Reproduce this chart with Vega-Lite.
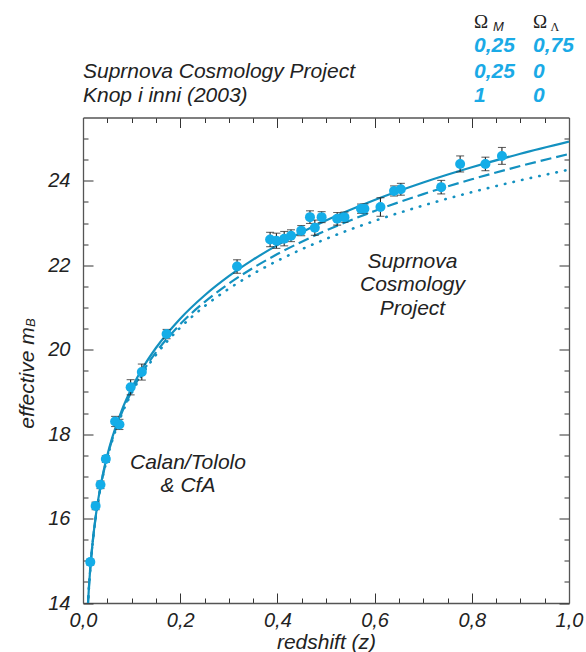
{
  "$schema": "https://vega.github.io/schema/vega-lite/v6.json",
  "width": 486,
  "height": 485.5,
  "autosize": "none",
  "padding": {"left": 83, "top": 117.5, "right": 17, "bottom": 49},
  "background": "white",
  "config": {
    "view": {"stroke": null},
    "font": "Liberation Sans",
    "axis": {
      "grid": false,
      "domainColor": "#555555",
      "domainWidth": 1.3,
      "tickColor": "#333333",
      "tickWidth": 1,
      "labelFont": "Liberation Sans",
      "labelFontStyle": "italic",
      "labelFontSize": 20,
      "labelColor": "#222222",
      "titleFont": "Liberation Sans",
      "titleFontStyle": "italic",
      "titleFontWeight": "normal",
      "titleFontSize": 21,
      "titleColor": "#222222"
    }
  },
  "data": {"values": [{}]},
  "datasets": {
    "sn": [
      {"z": 0.015, "m": 14.97, "e": 0.07},
      {"z": 0.026, "m": 16.30, "e": 0.09},
      {"z": 0.036, "m": 16.80, "e": 0.09},
      {"z": 0.047, "m": 17.41, "e": 0.08},
      {"z": 0.066, "m": 18.30, "e": 0.12},
      {"z": 0.075, "m": 18.23, "e": 0.12},
      {"z": 0.098, "m": 19.11, "e": 0.18},
      {"z": 0.121, "m": 19.47, "e": 0.19},
      {"z": 0.172, "m": 20.37, "e": 0.11},
      {"z": 0.317, "m": 21.97, "e": 0.16},
      {"z": 0.385, "m": 22.61, "e": 0.17},
      {"z": 0.398, "m": 22.58, "e": 0.18},
      {"z": 0.414, "m": 22.63, "e": 0.17},
      {"z": 0.428, "m": 22.70, "e": 0.14},
      {"z": 0.449, "m": 22.82, "e": 0.12},
      {"z": 0.467, "m": 23.14, "e": 0.15},
      {"z": 0.477, "m": 22.89, "e": 0.18},
      {"z": 0.491, "m": 23.14, "e": 0.13},
      {"z": 0.523, "m": 23.10, "e": 0.15},
      {"z": 0.538, "m": 23.14, "e": 0.12},
      {"z": 0.572, "m": 23.34, "e": 0.11},
      {"z": 0.579, "m": 23.34, "e": 0.11},
      {"z": 0.612, "m": 23.38, "e": 0.22},
      {"z": 0.640, "m": 23.76, "e": 0.12},
      {"z": 0.654, "m": 23.80, "e": 0.14},
      {"z": 0.737, "m": 23.85, "e": 0.16},
      {"z": 0.776, "m": 24.40, "e": 0.19},
      {"z": 0.828, "m": 24.40, "e": 0.16},
      {"z": 0.862, "m": 24.59, "e": 0.20}
    ],
    "curves": [
      {"model": "flat", "z": 0.01, "m": 13.938},
      {"model": "flat", "z": 0.0125, "m": 14.427},
      {"model": "flat", "z": 0.015, "m": 14.827},
      {"model": "flat", "z": 0.02, "m": 15.460},
      {"model": "flat", "z": 0.025, "m": 15.953},
      {"model": "flat", "z": 0.03, "m": 16.358},
      {"model": "flat", "z": 0.04, "m": 17.000},
      {"model": "flat", "z": 0.05, "m": 17.500},
      {"model": "flat", "z": 0.06, "m": 17.912},
      {"model": "flat", "z": 0.08, "m": 18.569},
      {"model": "flat", "z": 0.1, "m": 19.085},
      {"model": "flat", "z": 0.125, "m": 19.607},
      {"model": "flat", "z": 0.15, "m": 20.040},
      {"model": "flat", "z": 0.2, "m": 20.734},
      {"model": "flat", "z": 0.25, "m": 21.284},
      {"model": "flat", "z": 0.3, "m": 21.741},
      {"model": "flat", "z": 0.35, "m": 22.133},
      {"model": "flat", "z": 0.4, "m": 22.477},
      {"model": "flat", "z": 0.5, "m": 23.061},
      {"model": "flat", "z": 0.6, "m": 23.546},
      {"model": "flat", "z": 0.7, "m": 23.960},
      {"model": "flat", "z": 0.8, "m": 24.321},
      {"model": "flat", "z": 0.9, "m": 24.642},
      {"model": "flat", "z": 1.0, "m": 24.929},
      {"model": "open", "z": 0.01, "m": 13.930},
      {"model": "open", "z": 0.0125, "m": 14.416},
      {"model": "open", "z": 0.015, "m": 14.815},
      {"model": "open", "z": 0.02, "m": 15.444},
      {"model": "open", "z": 0.025, "m": 15.933},
      {"model": "open", "z": 0.03, "m": 16.334},
      {"model": "open", "z": 0.04, "m": 16.968},
      {"model": "open", "z": 0.05, "m": 17.462},
      {"model": "open", "z": 0.06, "m": 17.867},
      {"model": "open", "z": 0.08, "m": 18.509},
      {"model": "open", "z": 0.1, "m": 19.012},
      {"model": "open", "z": 0.125, "m": 19.518},
      {"model": "open", "z": 0.15, "m": 19.936},
      {"model": "open", "z": 0.2, "m": 20.603},
      {"model": "open", "z": 0.25, "m": 21.129},
      {"model": "open", "z": 0.3, "m": 21.564},
      {"model": "open", "z": 0.35, "m": 21.938},
      {"model": "open", "z": 0.4, "m": 22.265},
      {"model": "open", "z": 0.5, "m": 22.822},
      {"model": "open", "z": 0.6, "m": 23.286},
      {"model": "open", "z": 0.7, "m": 23.685},
      {"model": "open", "z": 0.8, "m": 24.036},
      {"model": "open", "z": 0.9, "m": 24.351},
      {"model": "open", "z": 1.0, "m": 24.635},
      {"model": "eds", "z": 0.01, "m": 13.925},
      {"model": "eds", "z": 0.0125, "m": 14.411},
      {"model": "eds", "z": 0.015, "m": 14.809},
      {"model": "eds", "z": 0.02, "m": 15.436},
      {"model": "eds", "z": 0.025, "m": 15.923},
      {"model": "eds", "z": 0.03, "m": 16.322},
      {"model": "eds", "z": 0.04, "m": 16.952},
      {"model": "eds", "z": 0.05, "m": 17.441},
      {"model": "eds", "z": 0.06, "m": 17.842},
      {"model": "eds", "z": 0.08, "m": 18.477},
      {"model": "eds", "z": 0.1, "m": 18.971},
      {"model": "eds", "z": 0.125, "m": 19.468},
      {"model": "eds", "z": 0.15, "m": 19.875},
      {"model": "eds", "z": 0.2, "m": 20.522},
      {"model": "eds", "z": 0.25, "m": 21.028},
      {"model": "eds", "z": 0.3, "m": 21.443},
      {"model": "eds", "z": 0.35, "m": 21.797},
      {"model": "eds", "z": 0.4, "m": 22.105},
      {"model": "eds", "z": 0.5, "m": 22.624},
      {"model": "eds", "z": 0.6, "m": 23.051},
      {"model": "eds", "z": 0.7, "m": 23.415},
      {"model": "eds", "z": 0.8, "m": 23.731},
      {"model": "eds", "z": 0.9, "m": 24.012},
      {"model": "eds", "z": 1.0, "m": 24.264}
    ]
  },
  "resolve": {"axis": {"x": "independent", "y": "independent"}},
  "layer": [
    {
      "data": {"name": "curves"},
      "transform": [{"filter": "datum.model === 'flat'"}],
      "mark": {"type": "line", "clip": true, "color": "#1391c0", "strokeWidth": 2.2, "interpolate": "monotone"},
      "encoding": {
        "x": {
          "field": "z", "type": "quantitative",
          "scale": {"domain": [0, 1], "nice": false, "zero": false},
          "axis": {
            "orient": "bottom",
            "values": [0, 0.05, 0.1, 0.15, 0.2, 0.25, 0.3, 0.35, 0.4, 0.45, 0.5, 0.55, 0.6, 0.65, 0.7, 0.75, 0.8, 0.85, 0.9, 0.95, 1],
            "tickSize": {"condition": {"test": "indexof([0, 0.2, 0.4, 0.6, 0.8, 1], datum.value) >= 0", "value": -10}, "value": -5},
            "labelExpr": "indexof([0, 0.2, 0.4, 0.6, 0.8, 1], datum.value) >= 0 ? replace(format(datum.value, '.1f'), '.', ',') : ''",
            "labelPadding": 33,
            "labelBaseline": "alphabetic",
            "labelOverlap": false,
            "labelFlush": false,
            "labelBound": false,
            "title": "redshift (z)",
            "titleY": 45,
            "titleBaseline": "alphabetic"
          }
        },
        "y": {
          "field": "m", "type": "quantitative",
          "scale": {"domain": [14, 25.5], "nice": false, "zero": false},
          "axis": {
            "orient": "left",
            "values": [14, 14.5, 15, 15.5, 16, 16.5, 17, 17.5, 18, 18.5, 19, 19.5, 20, 20.5, 21, 21.5, 22, 22.5, 23, 23.5, 24, 24.5, 25],
            "tickSize": {"condition": {"test": "datum.value % 2 === 0", "value": -10}, "value": -5},
            "labelExpr": "datum.value % 2 === 0 ? format(datum.value, 'd') : ''",
            "labelPadding": 23,
            "labelOverlap": false,
            "labelFlush": false,
            "labelBound": false,
            "title": "effective m",
            "titleX": -50,
            "titleY": 260,
            "titleBaseline": "alphabetic"
          }
        }
      }
    },
    {
      "data": {"name": "curves"},
      "transform": [{"filter": "datum.model === 'open'"}],
      "mark": {"type": "line", "clip": true, "color": "#1391c0", "strokeWidth": 2.2, "strokeDash": [11, 5], "interpolate": "monotone"},
      "encoding": {
        "x": {"field": "z", "type": "quantitative", "axis": null},
        "y": {"field": "m", "type": "quantitative", "axis": null}
      }
    },
    {
      "data": {"name": "curves"},
      "transform": [{"filter": "datum.model === 'eds'"}],
      "mark": {"type": "line", "clip": true, "color": "#1391c0", "strokeWidth": 2.6, "strokeDash": [0.5, 8.3], "strokeCap": "round", "interpolate": "monotone"},
      "encoding": {
        "x": {"field": "z", "type": "quantitative", "axis": null},
        "y": {"field": "m", "type": "quantitative", "axis": null}
      }
    },
    {
      "data": {"name": "sn"},
      "mark": {"type": "errorbar", "color": "#222222", "thickness": 1.1, "ticks": {"size": 8, "color": "#222222"}},
      "encoding": {
        "x": {"field": "z", "type": "quantitative", "axis": null},
        "y": {"field": "m", "type": "quantitative", "axis": null},
        "yError": {"field": "e"}
      }
    },
    {
      "data": {"name": "sn"},
      "mark": {"type": "circle", "size": 100, "color": "#14ade8", "opacity": 1},
      "encoding": {
        "x": {
          "field": "z", "type": "quantitative",
          "axis": {
            "orient": "top",
            "values": [0, 0.05, 0.1, 0.15, 0.2, 0.25, 0.3, 0.35, 0.4, 0.45, 0.5, 0.55, 0.6, 0.65, 0.7, 0.75, 0.8, 0.85, 0.9, 0.95, 1],
            "tickSize": {"condition": {"test": "indexof([0, 0.2, 0.4, 0.6, 0.8, 1], datum.value) >= 0", "value": -10}, "value": -5},
            "labels": false,
            "title": null
          }
        },
        "y": {
          "field": "m", "type": "quantitative",
          "axis": {
            "orient": "right",
            "values": [14, 14.5, 15, 15.5, 16, 16.5, 17, 17.5, 18, 18.5, 19, 19.5, 20, 20.5, 21, 21.5, 22, 22.5, 23, 23.5, 24, 24.5, 25],
            "tickSize": {"condition": {"test": "datum.value % 2 === 0", "value": -10}, "value": -5},
            "labels": false,
            "title": null
          }
        }
      }
    },
    {
      "mark": {"type": "text", "text": "B", "angle": 270, "align": "left", "baseline": "alphabetic", "fontSize": 13, "fontStyle": "italic", "color": "#222222"},
      "encoding": {
        "x": {"datum": -0.0988, "type": "quantitative", "axis": null},
        "y": {"datum": 20.54, "type": "quantitative", "axis": null}
      }
    },
    {
      "mark": {"type": "text", "text": ["Calan/Tololo", "& CfA"], "align": "center", "baseline": "alphabetic", "lineHeight": 23, "fontSize": 21, "fontStyle": "italic", "color": "#222222"},
      "encoding": {
        "x": {"datum": 0.216, "type": "quantitative", "axis": null},
        "y": {"datum": 17.175, "type": "quantitative", "axis": null}
      }
    },
    {
      "mark": {"type": "text", "text": ["Suprnova", "Cosmology", "Project"], "align": "center", "baseline": "alphabetic", "lineHeight": 23.5, "fontSize": 21, "fontStyle": "italic", "color": "#222222"},
      "encoding": {
        "x": {"datum": 0.678, "type": "quantitative", "axis": null},
        "y": {"datum": 21.936, "type": "quantitative", "axis": null}
      }
    },
    {
      "mark": {"type": "text", "text": "Suprnova Cosmology Project", "align": "left", "baseline": "alphabetic", "fontSize": 21, "fontStyle": "italic", "color": "#222222"},
      "encoding": {
        "x": {"datum": 0, "type": "quantitative", "axis": null},
        "y": {"datum": 26.429, "type": "quantitative", "axis": null}
      }
    },
    {
      "mark": {"type": "text", "text": "Knop i inni (2003)", "align": "left", "baseline": "alphabetic", "fontSize": 21, "fontStyle": "italic", "color": "#222222"},
      "encoding": {
        "x": {"datum": 0, "type": "quantitative", "axis": null},
        "y": {"datum": 25.872, "type": "quantitative", "axis": null}
      }
    },
    {
      "mark": {"type": "text", "text": "Ω", "align": "left", "baseline": "alphabetic", "fontSize": 19, "font": "Liberation Serif", "color": "#222222"},
      "encoding": {
        "x": {"datum": 0.8045, "type": "quantitative", "axis": null},
        "y": {"datum": 27.626, "type": "quantitative", "axis": null}
      }
    },
    {
      "mark": {"type": "text", "text": "M", "align": "left", "baseline": "alphabetic", "fontSize": 13, "fontStyle": "italic", "color": "#222222"},
      "encoding": {
        "x": {"datum": 0.8436, "type": "quantitative", "axis": null},
        "y": {"datum": 27.555, "type": "quantitative", "axis": null}
      }
    },
    {
      "mark": {"type": "text", "text": "Ω", "align": "left", "baseline": "alphabetic", "fontSize": 19, "font": "Liberation Serif", "color": "#222222"},
      "encoding": {
        "x": {"datum": 0.9259, "type": "quantitative", "axis": null},
        "y": {"datum": 27.626, "type": "quantitative", "axis": null}
      }
    },
    {
      "mark": {"type": "text", "text": "Λ", "align": "left", "baseline": "alphabetic", "fontSize": 12, "font": "Liberation Serif", "color": "#222222"},
      "encoding": {
        "x": {"datum": 0.9619, "type": "quantitative", "axis": null},
        "y": {"datum": 27.555, "type": "quantitative", "axis": null}
      }
    },
    {
      "mark": {"type": "text", "text": "0,25", "align": "left", "baseline": "alphabetic", "fontSize": 21, "fontStyle": "italic", "fontWeight": "bold", "color": "#1aaae6"},
      "encoding": {
        "x": {"datum": 0.8045, "type": "quantitative", "axis": null},
        "y": {"datum": 27.045, "type": "quantitative", "axis": null}
      }
    },
    {
      "mark": {"type": "text", "text": "0,75", "align": "left", "baseline": "alphabetic", "fontSize": 21, "fontStyle": "italic", "fontWeight": "bold", "color": "#1aaae6"},
      "encoding": {
        "x": {"datum": 0.9259, "type": "quantitative", "axis": null},
        "y": {"datum": 27.045, "type": "quantitative", "axis": null}
      }
    },
    {
      "mark": {"type": "text", "text": "0,25", "align": "left", "baseline": "alphabetic", "fontSize": 21, "fontStyle": "italic", "fontWeight": "bold", "color": "#1aaae6"},
      "encoding": {
        "x": {"datum": 0.8045, "type": "quantitative", "axis": null},
        "y": {"datum": 26.429, "type": "quantitative", "axis": null}
      }
    },
    {
      "mark": {"type": "text", "text": "0", "align": "left", "baseline": "alphabetic", "fontSize": 21, "fontStyle": "italic", "fontWeight": "bold", "color": "#1aaae6"},
      "encoding": {
        "x": {"datum": 0.9259, "type": "quantitative", "axis": null},
        "y": {"datum": 26.429, "type": "quantitative", "axis": null}
      }
    },
    {
      "mark": {"type": "text", "text": "1", "align": "left", "baseline": "alphabetic", "fontSize": 21, "fontStyle": "italic", "fontWeight": "bold", "color": "#1aaae6"},
      "encoding": {
        "x": {"datum": 0.8045, "type": "quantitative", "axis": null},
        "y": {"datum": 25.872, "type": "quantitative", "axis": null}
      }
    },
    {
      "mark": {"type": "text", "text": "0", "align": "left", "baseline": "alphabetic", "fontSize": 21, "fontStyle": "italic", "fontWeight": "bold", "color": "#1aaae6"},
      "encoding": {
        "x": {"datum": 0.9259, "type": "quantitative", "axis": null},
        "y": {"datum": 25.872, "type": "quantitative", "axis": null}
      }
    }
  ]
}
